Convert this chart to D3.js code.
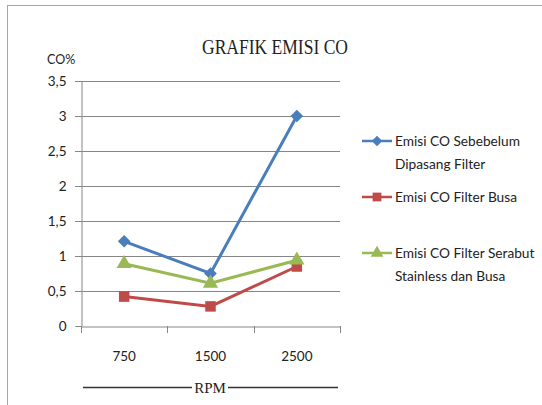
<!DOCTYPE html>
<html>
<head>
<meta charset="utf-8">
<script src="https://cdn.jsdelivr.net/npm/d3@7"></script>
<style>
  body { margin: 0; background: #fff; }
  text { font-family: Lato, "Open Sans", sans-serif; fill: #222; }
</style>
</head>
<body>
<div id="chart"></div>
<script>
// data
var rpm = ["750", "1500", "2500"];
var yTicks = [0, 0.5, 1, 1.5, 2, 2.5, 3, 3.5];
var seriesNames = ["Emisi CO Sebebelum|Dipasang Filter", "Emisi CO Filter Busa", "Emisi CO Filter Serabut|Stainless dan Busa"];
var sebelum = [1.21, 0.75, 3.0];
var busa = [0.42, 0.28, 0.85];
var serabut = [0.89, 0.61, 0.94];

// diamond = square turned 45 degrees
var series = [
    {name: seriesNames[0], values: sebelum, color: "#4a7ebb", symbol: d3.symbolSquare, rot: 45, size: 80},
    {name: seriesNames[1], values: busa, color: "#be4b48", symbol: d3.symbolSquare, rot: 0, size: 110},
    {name: seriesNames[2], values: serabut, color: "#98b954", symbol: d3.symbolTriangle, rot: 0, size: 100}
];

var svg = d3.select("#chart")
    .append("svg")
    .attr("width", 542)
    .attr("height", 405);

// outer frame
svg.append("rect")
    .attr("x", 7.5).attr("y", 5.5)
    .attr("width", 600).attr("height", 500)
    .style("fill", "none")
    .style("stroke", "#a6a6a6");

var xScale = d3.scaleBand()
    .domain(rpm)
    .range([81, 340]);

var yScale = d3.scaleLinear()
    .domain([0, 3.5])
    .range([326, 81]);

// gridlines
svg.append("g")
    .selectAll("line")
    .data(yTicks.slice(1))
    .enter()
    .append("line")
    .attr("x1", 75).attr("x2", 340)
    .attr("y1", function (d) { return Math.round(yScale(d)) + 0.5; })
    .attr("y2", function (d) { return Math.round(yScale(d)) + 0.5; })
    .style("stroke", "#868686");

// y axis
var yAxis = svg.append("g")
    .attr("transform", "translate(81.5,0)")
    .call(d3.axisLeft(yScale).tickValues(yTicks).tickSize(6).tickFormat(function (d) { return String(d).replace(".", ","); }));
yAxis.select(".domain").style("stroke", "#868686");
yAxis.selectAll(".tick line").style("stroke", "#868686");
yAxis.selectAll(".tick text")
    .attr("x", -15)
    .style("font-family", "Lato, sans-serif")
    .style("font-size", "13.5px")
    .style("fill", "#222");

// x axis
var xAxis = svg.append("g")
    .attr("transform", "translate(0,326.5)")
    .call(d3.axisBottom(xScale).tickSize(0).tickPadding(25));
xAxis.select(".domain").style("stroke", "#868686");
xAxis.selectAll(".tick text")
    .style("font-family", "Lato, sans-serif")
    .style("font-size", "13.5px")
    .style("fill", "#222");

// x tick marks at category boundaries
var bounds = rpm.map(function (d) { return xScale(d); }).concat([xScale.range()[1]]);
svg.append("g")
    .selectAll("line")
    .data(bounds)
    .enter()
    .append("line")
    .attr("x1", function (d) { return Math.round(d) + 0.5; })
    .attr("x2", function (d) { return Math.round(d) + 0.5; })
    .attr("y1", 326).attr("y2", 333)
    .style("stroke", "#868686");

// lines and markers
var line = d3.line()
    .x(function (d, i) { return xScale(rpm[i]) + xScale.bandwidth() / 2; })
    .y(function (d) { return yScale(d); });

var groups = svg.selectAll("g.series")
    .data(series)
    .enter()
    .append("g")
    .attr("class", "series");

groups.append("path")
    .attr("d", function (d) { return line(d.values); })
    .style("fill", "none")
    .style("stroke", function (d) { return d.color; })
    .style("stroke-width", 3);

groups.selectAll("path.pt")
    .data(function (d) { return d.values.map(function (v, i) { return {v: v, i: i, s: d}; }); })
    .enter()
    .append("path")
    .attr("class", "pt")
    .attr("transform", function (d) {
        return "translate(" + (xScale(rpm[d.i]) + xScale.bandwidth() / 2) + "," + yScale(d.v) + ") rotate(" + d.s.rot + ")";
    })
    .attr("d", function (d) { return d3.symbol().type(d.s.symbol).size(d.s.size)(); })
    .style("fill", function (d) { return d.s.color; });

// title
svg.append("text")
    .attr("x", 275).attr("y", 54)
    .attr("text-anchor", "middle")
    .attr("textLength", 146)
    .attr("lengthAdjust", "spacingAndGlyphs")
    .style("font-family", "'Liberation Serif', serif")
    .style("font-size", "20px")
    .text("GRAFIK EMISI CO");

svg.append("text")
    .attr("x", 47).attr("y", 64)
    .style("font-size", "12.5px")
    .text("CO%");

// RPM axis title with lines
svg.append("text")
    .attr("x", 210).attr("y", 392.5)
    .attr("text-anchor", "middle")
    .style("font-family", "'Liberation Serif', serif")
    .style("font-size", "15px")
    .text("RPM");
svg.append("line")
    .attr("x1", 83).attr("x2", 192).attr("y1", 387.5).attr("y2", 387.5)
    .style("stroke", "#333").style("stroke-width", 1.3);
svg.append("line")
    .attr("x1", 228).attr("x2", 338).attr("y1", 387.5).attr("y2", 387.5)
    .style("stroke", "#333").style("stroke-width", 1.3);

// legend
var legendY = [141, 197, 253];
var legend = svg.append("g")
    .selectAll("g")
    .data(series)
    .enter()
    .append("g")
    .attr("transform", function (d, i) { return "translate(362," + legendY[i] + ")"; });

legend.append("line")
    .attr("x1", 0).attr("x2", 30)
    .style("stroke", function (d) { return d.color; })
    .style("stroke-width", 2.5);

legend.append("path")
    .attr("transform", function (d) { return "translate(15,0) rotate(" + d.rot + ")"; })
    .attr("d", function (d) { return d3.symbol().type(d.symbol).size(d.size * 0.7)(); })
    .style("fill", function (d) { return d.color; });

legend.append("text")
    .style("font-size", "13.7px")
    .selectAll("tspan")
    .data(function (d) { return d.name.split("|"); })
    .enter()
    .append("tspan")
    .attr("x", 33)
    .attr("y", function (d, i) { return 5 + i * 23; })
    .text(function (d) { return d; });
</script>
</body>
</html>
